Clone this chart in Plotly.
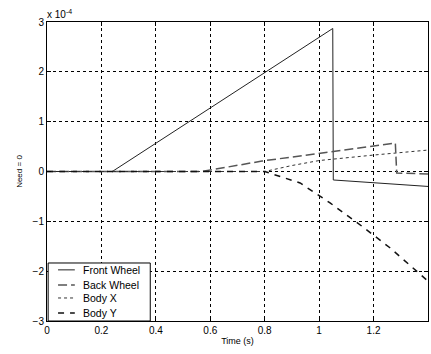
import plotly.graph_objects as go

# values in units of 1e-4
fw_t = [0, 0.24, 1.05, 1.052, 1.4]
fw_v = [0, 0, 2.87, -0.17, -0.30]
bw_t = [0, 0.57, 0.79, 1.0, 1.28, 1.285, 1.4]
bw_v = [0, 0, 0.21, 0.37, 0.57, -0.03, -0.05]
bx_t = [0, 0.8, 0.9, 1.0, 1.2, 1.4]
bx_v = [0, 0, 0.12, 0.22, 0.33, 0.43]
by_t = [0, 0.8, 0.93, 1.04, 1.16, 1.26, 1.4]
by_v = [0, 0, -0.23, -0.63, -1.11, -1.53, -2.2]

series_names = ["Front Wheel", "Back Wheel", "Body X", "Body Y"]
x_ticks = [0, 0.2, 0.4, 0.6, 0.8, 1, 1.2, 1.4]
x_labels = ["0", "0.2", "0.4", "0.6", "0.8", "1", "1.2", "1.4"]
y_ticks = [-3, -2, -1, 0, 1, 2, 3]

styles = [
    dict(color="#222222", width=1),
    dict(color="#555555", width=1.5, dash="9px,4px"),
    dict(color="#333333", width=1, dash="3px,3px"),
    dict(color="#111111", width=1.5, dash="6px,6px"),
]
data = [(fw_t, fw_v), (bw_t, bw_v), (bx_t, bx_v), (by_t, by_v)]

FONT = "Liberation Sans, Arial"

fig = go.Figure()
for (t, v), name, st in zip(data, series_names, styles):
    fig.add_trace(go.Scatter(x=t, y=v, mode="lines", name=name, line=st, showlegend=False))

axis_common = dict(showline=True, linecolor="black", linewidth=1, mirror="ticks",
                   ticks="inside", ticklen=4, tickcolor="black",
                   showgrid=True, gridcolor="black", gridwidth=1, griddash="3px,3px",
                   zeroline=False,
                   tickfont=dict(family=FONT, size=10, color="black"))

fig.update_layout(
    width=431, height=354,
    margin=dict(l=47, r=3, t=22, b=33),
    paper_bgcolor="white", plot_bgcolor="white",
    showlegend=False,
    xaxis=dict(range=[0, 1.4], tickvals=x_ticks, ticktext=x_labels,
               title=dict(text="Time (s)", standoff=2,
                          font=dict(family=FONT, size=9, color="black")),
               **axis_common),
    yaxis=dict(range=[-3, 3], tickvals=y_ticks,
               title=dict(text="Need = 0", standoff=8,
                          font=dict(family=FONT, size=8, color="black")),
               **axis_common),
)

# compact MATLAB-style legend box (lower-left inside the axes)
fig.add_shape(type="rect", xref="paper", yref="paper", x0=0.003, x1=0.271, y0=0, y1=0.194,
              line=dict(color="black", width=1), fillcolor="white", layer="above")
row_y = [0.171, 0.120, 0.077, 0.027]
for name, st, ry in zip(series_names, styles, row_y):
    fig.add_shape(type="line", xref="paper", yref="paper", x0=0.029, x1=0.073, y0=ry, y1=ry,
                  line=st, layer="above")
    fig.add_annotation(text=name, xref="paper", yref="paper", x=0.089, y=ry,
                       xanchor="left", yanchor="middle", showarrow=False,
                       font=dict(family=FONT, size=10.5, color="black"))

fig.add_annotation(text="x 10<sup>-4</sup>", xref="paper", yref="paper",
                   x=0, y=1, xanchor="left", yanchor="bottom", showarrow=False,
                   xshift=-2, yshift=0,
                   font=dict(family=FONT, size=10, color="black"))

fig.write_html("out.html")
